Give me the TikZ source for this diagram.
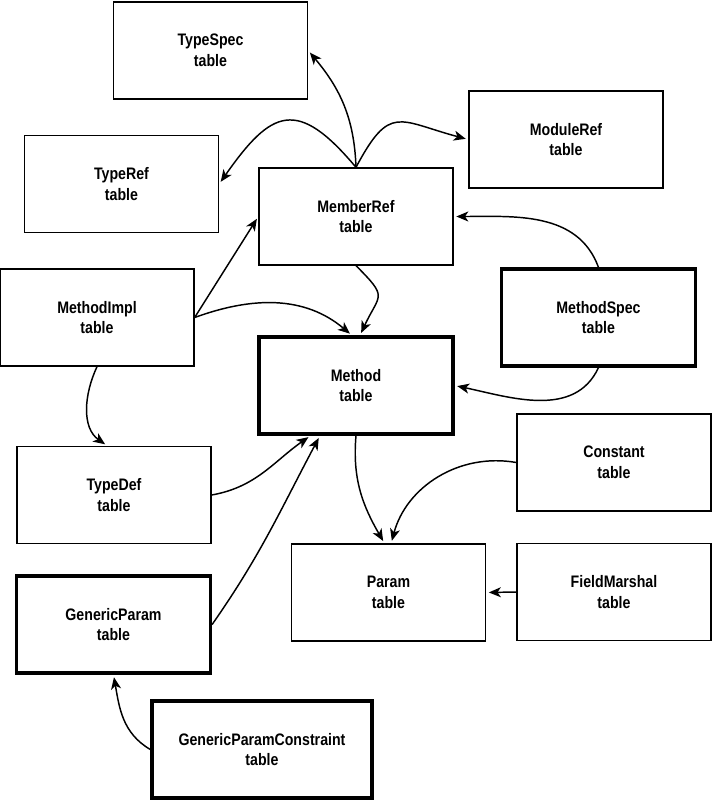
\documentclass[tikz,border=0pt]{standalone}
\usepackage{fontspec}
\setmainfont{Liberation Sans}[FakeStretch=0.85]
\usetikzlibrary{arrows.meta}

\tikzset{
  tbl/.style={draw,line width=1pt,minimum width=145.5pt,minimum height=72.75pt,
    align=center,font=\bfseries\fontsize{12.5}{15.5}\selectfont},
  tblthick/.style={tbl,line width=2.4pt},
  link/.style={->,line width=1.1pt,shorten >=2pt}
}

\begin{document}
\begin{tikzpicture}[x=0.75pt,y=-0.75pt,>={Stealth[length=9pt,width=7.5pt,inset=2.5pt]}]
  \useasboundingbox (0,0) rectangle (714,800);
  \node[tbl] (typespec) at (210.5,50.5) {TypeSpec\\table};
  \node[tbl] (moduleref) at (566,139.5) {ModuleRef\\table};
  \node[tbl] (typeref) at (121.5,184) {TypeRef\\table};
  \node[tbl] (memberref) at (356,216.5) {MemberRef\\table};
  \node[tbl] (methodimpl) at (97,317.5) {MethodImpl\\table};
  \node[tblthick] (methodspec) at (598.5,317.5) {MethodSpec\\table};
  \node[tblthick] (method) at (356,385.5) {Method\\table};
  \node[tbl] (constant) at (614,462.5) {Constant\\table};
  \node[tbl] (typedef) at (114,495) {TypeDef\\table};
  \node[tbl] (param) at (388.5,592.5) {Param\\table};
  \node[tbl] (fieldmarshal) at (614,592) {FieldMarshal\\table};
  \node[tblthick] (genericparam) at (113.5,624.5) {GenericParam\\table};
  \node[tblthick,minimum width=165pt] (gpc) at (262,749.5) {GenericParamConstraint\\table};

  \draw[link] (memberref.north) to[out=92,in=-50] (typespec.east);
  \draw[link] (memberref.north) to[out=130,in=55,looseness=1.7] (typeref.east);
  \draw[link] (memberref.north) to[out=62,in=165,looseness=1.6] (moduleref.west);
  \draw[link] (methodimpl.east) -- (memberref.west);
  \draw[link] (methodimpl.east) to[out=20,in=140] ([xshift=-3pt]method.north);
  \draw[link] (memberref.south) to[out=-45,in=65,looseness=1.7] ([xshift=3pt]method.north);
  \draw[link] (methodspec.north) to[out=110,in=0] (memberref.east);
  \draw[link] (methodspec.south) to[out=-115,in=-12] (method.east);
  \draw[link] (methodimpl.south) to[out=-115,in=145] ([xshift=-5pt]typedef.north);
  \draw[link] (typedef.east) to[out=10,in=-145] ([xshift=-34pt]method.south);
  \draw[link] (genericparam.east) to[out=55,in=-118] ([xshift=-27pt]method.south);
  \draw[link] (method.south) to[out=-95,in=120] ([xshift=-3pt]param.north);
  \draw[link] (constant.west) to[out=170,in=75] ([xshift=2pt]param.north);
  \draw[link] (fieldmarshal.west) -- (param.east);
  \draw[link] (gpc.west) to[out=150,in=-80] (genericparam.south);
\end{tikzpicture}
\end{document}
